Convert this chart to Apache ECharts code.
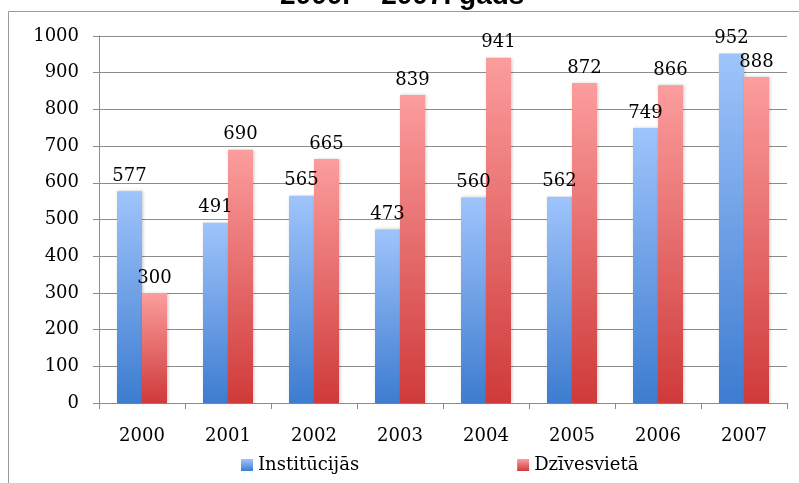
<!DOCTYPE html>
<html>
<head>
<meta charset="utf-8">
<script src="https://cdn.jsdelivr.net/npm/echarts@6/dist/echarts.min.js"></script>
<style>
  html, body { margin: 0; padding: 0; background: #fff; }
  #chart { width: 799px; height: 483px; }
</style>
</head>
<body>
<div id="chart"></div>
<script>
// data
var years = ["2000", "2001", "2002", "2003", "2004", "2005", "2006", "2007"];
var institucijas = [577, 491, 565, 473, 560, 562, 749, 952];
var dzivesvieta = [300, 690, 665, 839, 941, 872, 866, 888];
var yTicks = { min: 0, max: 1000, interval: 100 };

var serif = "DejaVu Serif";

function grad(top, bottom) {
  return {
    type: "linear", x: 0, y: 0, x2: 0, y2: 1,
    colorStops: [{ offset: 0, color: top }, { offset: 1, color: bottom }]
  };
}

var labelStyle = {
  show: true,
  position: "top",
  distance: 6,
  fontFamily: serif,
  fontSize: 18,
  color: "#000"
};

var chartOption = {
  backgroundColor: "#fff",
  animation: false,
  title: {
    text: "2000. – 2007. gads",
    left: 280,
    top: -18,
    padding: 0,
    textStyle: {
      fontFamily: "Liberation Sans",
      fontWeight: "bold",
      fontSize: 28,
      lineHeight: 28,
      color: "#000"
    }
  },
  graphic: [
    {
      type: "rect",
      z: -1,
      shape: { x: 8.5, y: 11.5, width: 900, height: 600 },
      style: { fill: "none", stroke: "#9a9a9a", lineWidth: 1 }
    }
  ],
  legend: {
    data: ["Institūcijās", "Dzīvesvietā"],
    left: 241,
    top: 456,
    padding: 0,
    icon: "rect",
    itemWidth: 12,
    itemHeight: 12,
    itemGap: 158,
    textStyle: { fontFamily: serif, fontSize: 18, color: "#000" }
  },
  grid: { left: 99, right: 12, top: 36, bottom: 80 },
  xAxis: {
    type: "category",
    data: years,
    axisLine: { lineStyle: { color: "#8c8c8c", width: 1 } },
    axisTick: { show: true, length: 6, lineStyle: { color: "#8c8c8c" } },
    axisLabel: { fontFamily: serif, fontSize: 18, color: "#000", margin: 24 }
  },
  yAxis: {
    type: "value",
    min: yTicks.min,
    max: yTicks.max,
    interval: yTicks.interval,
    axisLine: { show: true, lineStyle: { color: "#8c8c8c", width: 1 } },
    axisTick: { show: true, length: 6, lineStyle: { color: "#8c8c8c" } },
    axisLabel: {
      fontFamily: serif, fontSize: 18, color: "#000", margin: 20,
      formatter: function (v) { return String(v); }
    },
    splitLine: { lineStyle: { color: "#8c8c8c", width: 1 } }
  },
  series: [
    {
      name: "Institūcijās",
      type: "bar",
      data: institucijas,
      barWidth: 25,
      barGap: "0%",
      itemStyle: {
        color: grad("#9fc4fb", "#3d7cd0"),
        shadowColor: "rgba(0,0,0,0.22)",
        shadowBlur: 3,
        shadowOffsetX: 1
      },
      label: labelStyle
    },
    {
      name: "Dzīvesvietā",
      type: "bar",
      data: dzivesvieta,
      barWidth: 25,
      itemStyle: {
        color: grad("#fc9d9d", "#cf3a3a"),
        shadowColor: "rgba(0,0,0,0.22)",
        shadowBlur: 3,
        shadowOffsetX: 1
      },
      label: labelStyle
    }
  ]
};

var myChart = echarts.init(document.getElementById("chart"));
myChart.setOption(chartOption);
</script>
</body>
</html>
